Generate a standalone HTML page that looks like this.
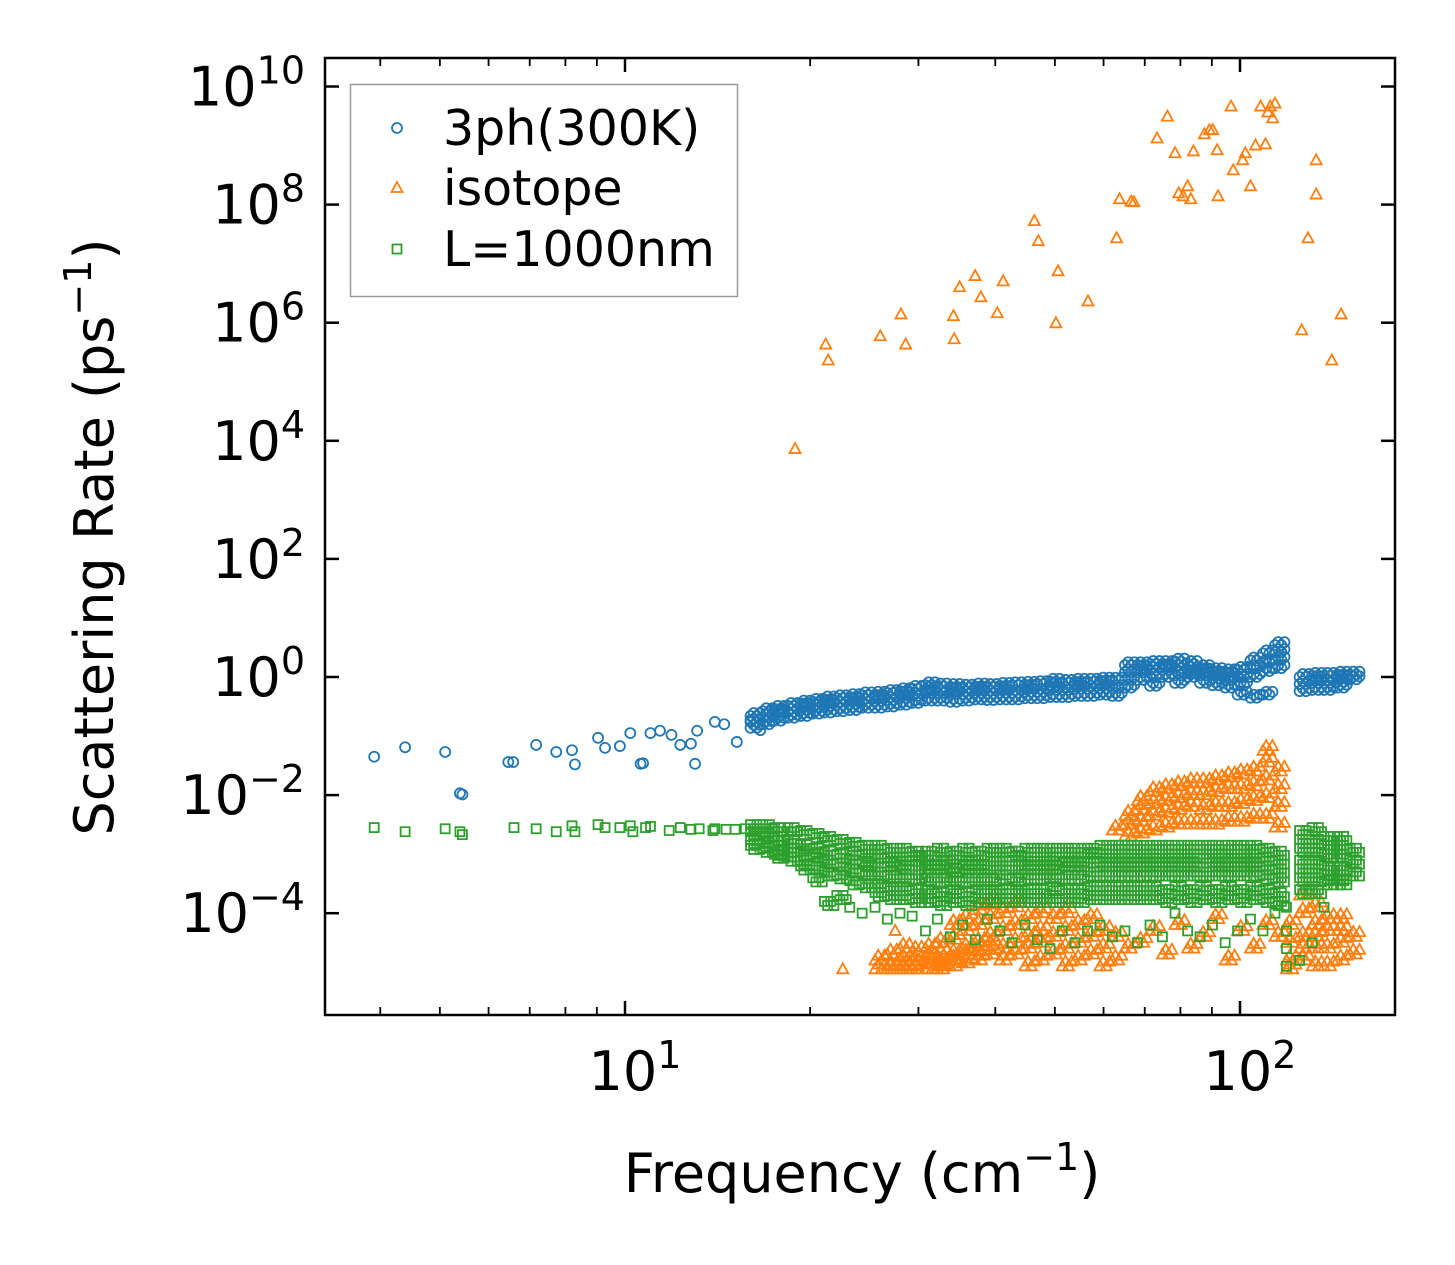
<!DOCTYPE html>
<html><head><meta charset="utf-8"><style>
html,body{margin:0;padding:0;background:#fff;}
svg{display:block;font-family:"DejaVu Sans","Liberation Sans",sans-serif;}
</style></head><body>
<svg id="chart" width="1455" height="1265" viewBox="0 0 1455 1265" xmlns="http://www.w3.org/2000/svg">
<rect width="1455" height="1265" fill="#fff"/>
<g id="marks"></g>
<g id="axes"></g>
<text x="862" y="1192" font-size="54" text-anchor="middle">Frequency (cm<tspan dy="-22" font-size="38">−1</tspan><tspan dy="22">)</tspan></text>
<text transform="translate(113,537) rotate(-90)" font-size="54" text-anchor="middle">Scattering Rate (ps<tspan dy="-22" font-size="38">−1</tspan><tspan dy="22">)</tspan></text>
<g>
<rect x="350.5" y="84.5" width="387" height="212" fill="#fff" fill-opacity="0.8" stroke="#999" stroke-width="1.5"/>
<g><circle cx="397" cy="128" r="5" fill="none" stroke="#1f77b4" stroke-width="1.8"/><text x="443" y="145" font-size="49">3ph(300K)</text></g>
<g><path d="M397,182 L402.5,192 L391.5,192 Z" fill="none" stroke="#ff7f0e" stroke-width="1.8"/><text x="443" y="205" font-size="49">isotope</text></g>
<g><rect x="392.5" y="244.5" width="9" height="9" fill="none" stroke="#2ca02c" stroke-width="1.8"/><text x="443" y="266" font-size="49">L=1000nm</text></g>
</g>
</svg>
<script>
// ---- data ----
const blueFreq=[3.91,4.39,5.10,5.39,5.44,6.46,6.58,7.17,7.73,8.20,8.29,9.04,9.28,9.81,10.2,10.6,10.7,11.0,11.4,11.9,12.3,12.8,13.0,13.1,14.0,14.5,15.2,16.0,16.6];
const blueLogRate=[-1.35,-1.19,-1.27,-1.97,-1.99,-1.44,-1.44,-1.15,-1.27,-1.24,-1.48,-1.03,-1.20,-1.17,-0.95,-1.47,-1.46,-0.95,-0.91,-0.98,-1.15,-1.13,-1.47,-0.91,-0.76,-0.80,-1.10,-0.73,-0.90];
const greenFreq=[3.91,4.39,5.10,5.39,5.44,6.60,7.17,7.73,8.20,8.29,9.04,9.28,9.81,10.2,10.3,10.8,11.0,11.8,12.3,12.8,13.2,13.9,14.0,14.6,15.1,15.7];
const greenLogRate=[-2.55,-2.62,-2.57,-2.62,-2.67,-2.55,-2.57,-2.62,-2.52,-2.62,-2.50,-2.55,-2.55,-2.52,-2.62,-2.55,-2.53,-2.60,-2.55,-2.58,-2.57,-2.60,-2.57,-2.58,-2.58,-2.57];
const isoFreq=[18.9,21.2,21.4,26.0,28.1,28.6,34.2,34.3,35.0,37.1,37.9,40.3,41.2,46.3,47.0,50.6,50.2,56.6,63.0,63.7,66.5,67.2,73.3,76.2,78.4,79.5,80.8,82.2,83.2,84.0,87.5,89.2,90.3,91.8,92.1,96.7,97.5,101,102,104,106,108,110,111,112,113,114,126,129,133,133,141,146,22.6,27.5];
const isoLogRate=[3.86,5.63,5.36,5.77,6.14,5.63,6.11,5.72,6.60,6.79,6.43,6.16,6.70,7.72,7.38,6.87,5.99,6.36,7.43,8.09,8.05,8.04,9.12,9.49,8.87,8.19,8.14,8.31,8.09,8.90,9.19,9.26,9.26,8.92,8.14,9.66,8.58,8.75,8.87,8.31,9.00,9.66,9.02,9.56,9.66,9.46,9.71,5.87,7.43,8.75,8.17,5.36,6.14,-4.95,-4.3];
const bandFreq=[16.0,16.76,17.5,18.4,19.3,20.2,21.1,22.1,23.2,24.3,25.5,26.7,28.0,29.3,30.8,32.2,33.8,35.4,37.1,38.8,40.7,42.6,44.7,46.8,49.1,51.4,53.9,56.5,59.2,62.0,65.0,68.1,71.4,74.8,78.4,82.2,86.1,90.2,94.6,99.1,104,109,114,119,125,131,137,144,151];
const blueBand=[[-0.76,-0.66,-0.86],[-0.69,-0.58,-0.80],[-0.64,-0.54,-0.74,-0.60],[-0.59,-0.49,-0.69],[-0.56,-0.45,-0.66,-0.5],[-0.52,-0.42,-0.62],[-0.49,-0.38,-0.60,-0.44],[-0.47,-0.36,-0.58],[-0.46,-0.34,-0.56,-0.40],[-0.42,-0.31,-0.52],[-0.41,-0.30,-0.52,-0.36],[-0.39,-0.27,-0.50],[-0.36,-0.24,-0.47,-0.30],[-0.32,-0.20,-0.44],[-0.27,-0.14,-0.40,-0.22],[-0.27,-0.16,-0.40],[-0.29,-0.17,-0.42,-0.23],[-0.29,-0.18,-0.40],[-0.27,-0.16,-0.38,-0.22],[-0.28,-0.17,-0.39],[-0.27,-0.15,-0.38,-0.21],[-0.27,-0.14,-0.38],[-0.25,-0.13,-0.36,-0.19],[-0.25,-0.12,-0.36],[-0.22,-0.08,-0.34,-0.15],[-0.22,-0.10,-0.34],[-0.20,-0.08,-0.32,-0.14],[-0.20,-0.08,-0.32],[-0.19,-0.06,-0.30,-0.12],[-0.19,-0.06,-0.32],[0.08,0.2,-0.05,-0.18],[0.08,0.2,-0.05,0.14],[0.12,0.22,0.0,-0.15],[0.12,0.22,0.0,0.16],[0.15,0.26,0.03,-0.1],[0.12,0.22,0.0,0.06],[0.03,0.15,-0.1,0.09],[-0.02,0.1,-0.14,0.04],[-0.05,0.08,-0.18,0.02],[0.0,0.12,-0.14,-0.3],[0.15,0.28,0.0,-0.35],[0.25,0.4,0.1,-0.3],[0.29,0.54,0.15,0.42],[],[-0.12,0.0,-0.24],[-0.1,0.02,-0.22,-0.05],[-0.1,0.02,-0.22],[-0.08,0.04,-0.18,-0.02],[-0.04,0.04]];
const greenBand=[[-2.62,-2.5,-2.75,-2.85],[-2.62,-2.5,-2.8,-2.9],[-2.7,-2.55,-2.85,-2.95,-3.0],[-2.75,-2.55,-2.9,-3.05],[-2.84,-2.6,-2.95,-3.1,-3.2],[-2.9,-2.65,-3.0,-3.2,-3.4],[-2.95,-2.7,-3.1,-3.3,-3.8],[-3.0,-2.75,-3.15,-3.35,-3.7],[-3.1,-2.8,-2.95,-3.25,-3.45,-3.9],[-3.12,-2.85,-3.0,-3.3,-3.5,-4.0],[-3.15,-2.85,-3.0,-3.3,-3.5,-3.65,-3.9],[-3.15,-2.9,-3.05,-3.35,-3.55,-3.7,-4.1],[-3.18,-2.9,-3.05,-3.35,-3.55,-3.7,-4.0],[-3.2,-2.95,-3.05,-3.35,-3.6,-3.75,-4.05],[-3.2,-2.95,-3.1,-3.4,-3.6,-3.75,-4.3],[-3.2,-2.9,-3.1,-3.4,-3.65,-3.8,-4.1],[-3.23,-2.95,-3.1,-3.4,-3.6,-3.75,-4.4],[-3.2,-2.9,-3.1,-3.4,-3.65,-3.8,-4.2],[-3.2,-2.95,-3.1,-3.4,-3.6,-3.75,-4.45],[-3.2,-2.9,-3.05,-3.4,-3.6,-3.75,-4.1],[-3.2,-2.9,-3.05,-3.35,-3.6,-3.75,-4.3],[-3.2,-2.95,-3.05,-3.4,-3.6,-3.75,-4.5],[-3.18,-2.9,-3.05,-3.35,-3.6,-3.75,-4.2],[-3.18,-2.9,-3.05,-3.35,-3.6,-3.75,-4.45],[-3.18,-2.9,-3.05,-3.35,-3.55,-3.75,-4.6],[-3.15,-2.9,-3.05,-3.35,-3.6,-3.75,-4.3],[-3.15,-2.9,-3.05,-3.35,-3.6,-3.75,-4.5],[-3.15,-2.9,-3.0,-3.3,-3.55,-3.7,-4.3],[-3.13,-2.85,-3.0,-3.3,-3.55,-3.7,-4.2],[-3.13,-2.85,-3.0,-3.3,-3.55,-3.7,-4.4],[-3.13,-2.85,-3.0,-3.3,-3.55,-3.7,-4.3],[-3.13,-2.85,-3.0,-3.3,-3.55,-3.7,-4.5],[-3.13,-2.85,-3.0,-3.3,-3.55,-3.7,-4.2],[-3.13,-2.85,-3.0,-3.3,-3.6,-3.75,-4.4],[-3.13,-2.85,-3.0,-3.3,-3.55,-3.7,-4.0],[-3.13,-2.85,-3.0,-3.3,-3.6,-3.75,-4.3],[-3.15,-2.85,-3.0,-3.3,-3.55,-3.7,-4.4],[-3.13,-2.85,-3.0,-3.3,-3.6,-3.75,-4.2],[-3.13,-2.85,-3.0,-3.3,-3.55,-3.7,-4.5],[-3.13,-2.85,-3.0,-3.3,-3.6,-3.75,-4.3],[-3.13,-2.85,-3.0,-3.3,-3.55,-3.7,-4.1],[-3.2,-2.9,-3.05,-3.35,-3.6,-3.75,-4.3],[-3.25,-2.95,-3.1,-3.4,-3.65,-3.8,-4.0],[-3.9,-4.3,-4.6,-4.9],[-2.9,-2.6,-2.75,-3.1,-3.25,-3.4,-3.6,-4.8],[-2.9,-2.55,-2.75,-3.1,-3.25,-3.4,-3.6,-4.5],[-3.0,-2.7,-2.85,-3.2,-3.35,-3.45,-3.9],[-3.0,-2.7,-2.85,-3.2,-3.35,-3.45],[-3.1,-2.9,-3.3]];
const isoBand=[[],[],[],[],[],[],[],[],[],[],[-4.8,-4.95],[-4.9,-4.7,-4.95],[-4.95,-4.8,-4.6,-4.9],[-4.95,-4.8,-4.65,-4.9],[-4.95,-4.75,-4.6,-4.85],[-4.9,-4.7,-4.5,-4.85,-4.95],[-4.9,-4.7,-4.45,-4.2,-4.8],[-4.85,-4.6,-4.3,-4.1,-4.7],[-4.8,-4.5,-4.2,-3.95,-4.65],[-4.7,-4.4,-4.1,-3.85,-4.55],[-4.6,-4.3,-4.0,-4.8],[-4.5,-4.2,-4.7,-3.9],[-4.4,-4.6,-4.9,-4.1],[-4.5,-4.3,-4.8,-4.0],[-4.4,-4.7,-4.1],[-4.6,-4.3,-4.9,-4.0],[-4.5,-4.8,-4.2],[-4.4,-4.7,-4.1],[-4.6,-4.9,-4.3],[-2.6,-4.4,-4.8],[-2.5,-2.7,-2.35,-4.6],[-2.45,-2.65,-2.25,-2.1,-4.5],[-2.35,-2.6,-2.15,-1.95,-4.3],[-2.3,-2.55,-2.1,-1.9,-4.7],[-2.25,-2.5,-2.05,-1.85,-4.2],[-2.2,-2.5,-2.0,-1.8,-4.6],[-2.5,-2.25,-2.0,-1.8,-4.4],[-2.5,-2.2,-1.95,-1.75,-4.1],[-2.45,-2.2,-1.9,-1.7,-4.8],[-2.45,-2.15,-1.9,-1.65,-4.3],[-2.4,-2.1,-1.85,-1.6,-4.6],[-2.4,-2.05,-1.75,-1.45,-1.25,-4.2],[-2.55,-2.2,-1.9,-1.6,-4.4],[-4.5,-4.8,-4.95,-4.2],[-4.4,-4.0,-4.8,-3.7,-4.6],[-4.2,-4.6,-4.9,-3.9,-4.4],[-4.3,-4.6,-4.9,-4.1],[-4.1,-4.5,-4.8,-4.3],[-4.4,-4.7]];
const yTickExp=[-4,-2,0,2,4,6,8,10];
const xTickExp=[1,2];
const xMinorVals=[4,5,6,7,8,9,20,30,40,50,60,70,80,90];

// ---- axes ----
const L=325,R=1395,T=58,B=1015;
const X=f=>625+615*(Math.log10(f)-1);
const Y=lr=>677-59.05*lr;
const NS='http://www.w3.org/2000/svg';
const marks=document.getElementById('marks');
const axes=document.getElementById('axes');
function mk(tag,attrs,parent){const e=document.createElementNS(NS,tag);for(const k in attrs)e.setAttribute(k,attrs[k]);parent.appendChild(e);return e;}
function circ(f,lr){const e=mk('circle',{cx:X(f),cy:Y(lr),r:5,fill:'none',stroke:'#1f77b4','stroke-width':1.8},marks);

}
function tri(f,lr){const x=X(f),y=Y(lr);const e=mk('path',{d:`M${x},${y-6} L${x+5.5},${y+4} L${x-5.5},${y+4} Z`,fill:'none',stroke:'#ff7f0e','stroke-width':1.8},marks);

}
function sq(f,lr){const e=mk('rect',{x:X(f)-4.5,y:Y(lr)-4.5,width:9,height:9,fill:'none',stroke:'#2ca02c','stroke-width':1.8},marks);

}
const spread=[1,1.012,1.024,1.036];
blueFreq.forEach((f,i)=>circ(f,blueLogRate[i]));
bandFreq.forEach((f,i)=>blueBand[i].forEach(v=>spread.forEach((s,k)=>circ(f*s,v+(k%2)*0.05))));
isoFreq.forEach((f,i)=>tri(f,isoLogRate[i]));
bandFreq.forEach((f,i)=>isoBand[i].forEach(v=>spread.forEach((s,k)=>tri(f*s,v+(k%2)*0.08))));
greenFreq.forEach((f,i)=>sq(f,greenLogRate[i]));
bandFreq.forEach((f,i)=>greenBand[i].forEach(v=>{if(v>-3.85)spread.forEach((s,k)=>sq(f*s,v-(k%2)*0.07));else sq(f,v);}));

const sp=mk('rect',{x:L,y:T,width:R-L,height:B-T,fill:'none',stroke:'#000','stroke-width':2.5},axes);


yTickExp.forEach(e=>{const y=Y(e);
mk('line',{x1:L,x2:L+14,y1:y,y2:y,stroke:'#000','stroke-width':2.5},axes);
mk('line',{x1:R,x2:R-14,y1:y,y2:y,stroke:'#000','stroke-width':2.5},axes);
const t=mk('text',{x:305,y:y+19,'font-size':54,'text-anchor':'end'},axes);


const neg=e<0?'−':'';const ex=Math.abs(e)+'';
t.innerHTML=`10<tspan dy="-22" font-size="38">${neg}${ex}</tspan>`;
});
xTickExp.forEach(e=>{const x=X(Math.pow(10,e));
mk('line',{x1:x,x2:x,y1:B,y2:B-14,stroke:'#000','stroke-width':2.5},axes);
mk('line',{x1:x,x2:x,y1:T,y2:T+14,stroke:'#000','stroke-width':2.5},axes);
const t=mk('text',{x:x+10,y:1090,'font-size':54,'text-anchor':'middle'},axes);


t.innerHTML=`10<tspan dy="-22" font-size="38">${e}</tspan>`;
});
xMinorVals.forEach(v=>{const x=X(v);
mk('line',{x1:x,x2:x,y1:B,y2:B-8,stroke:'#000','stroke-width':1.8},axes);
mk('line',{x1:x,x2:x,y1:T,y2:T+8,stroke:'#000','stroke-width':1.8},axes);
});
</script>
</body></html>
